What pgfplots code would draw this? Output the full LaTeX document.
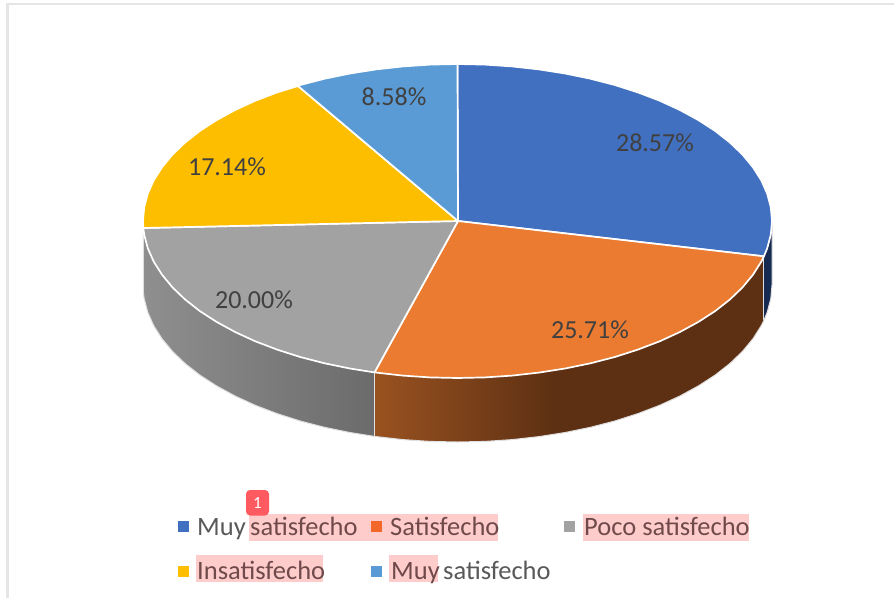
\documentclass[border=0pt]{standalone}
\usepackage{fontspec}
\usepackage{pgfplots}
\pgfplotsset{compat=1.18}
\setmainfont{Carlito}
\definecolor{sBlue}{HTML}{4270C0}
\definecolor{sOrange}{HTML}{EA7B30}
\definecolor{sGray}{HTML}{A2A2A2}
\definecolor{sYellow}{HTML}{FDBE00}
\definecolor{sLight}{HTML}{5B9BD5}
\definecolor{txtD}{HTML}{404040}
\definecolor{txtL}{HTML}{595959}
\definecolor{txtP}{HTML}{704A4A}
\definecolor{pinkH}{HTML}{FFCCCC}
\definecolor{wOa}{HTML}{995220}
\definecolor{wOb}{HTML}{5E3013}
\definecolor{wGa}{HTML}{8F8F8F}
\definecolor{wGb}{HTML}{6B6B6B}
\definecolor{wB}{HTML}{172B52}
\definecolor{swO}{HTML}{F4672A}
\definecolor{badge}{HTML}{FF5A5F}
\pgfdeclarehorizontalshading{orangewall}{100bp}{color(0bp)=(wOa); color(25bp)=(wOa); color(48bp)=(wOb); color(100bp)=(wOb)}
\pgfdeclarehorizontalshading{graywall}{100bp}{color(0bp)=(wGa); color(25bp)=(wGa); color(75bp)=(wGb); color(100bp)=(wGb)}
\begin{document}
\begin{tikzpicture}
\begin{axis}[
  scale only axis, width=894pt, height=598pt,
  xmin=0, xmax=894, ymin=0, ymax=598, y dir=reverse,
  hide axis, clip=true,
]
% page background and frame
\addplot[fill=white, draw=none] coordinates {(0,0) (894,0) (894,598) (0,598)} -- cycle;
\addplot[draw=black!10, line width=2.2pt] coordinates {(7.5,598) (7.5,4.2) (894,4.2)};
% side walls
\addplot[draw=none, fill=wB] coordinates {
 (772,221) (770.8,234.7) (767.2,248.3) (763.9,256.3) (763.9,320.3) (767.2,312.3) (770.8,298.7) (772,285)} -- cycle;
\addplot[draw=none, shading=orangewall] coordinates {
 (763.9,256.3) (761.3,261.6) (753,274.7) (742.5,287.4) (729.9,299.5) (715.1,311.1) (698.4,321.9) (679.9,332)
 (659.7,341.3) (637.9,349.6) (614.8,357) (590.4,363.3) (565.1,368.5) (538.9,372.6) (512.1,375.6) (484.9,377.4)
 (457.5,378) (430.1,377.4) (402.9,375.6) (374.5,372.4)
 (374.5,436.4) (402.9,439.6) (430.1,441.4) (457.5,442) (484.9,441.4) (512.1,439.6) (538.9,436.6) (565.1,432.5)
 (590.4,427.3) (614.8,421) (637.9,413.6) (659.7,405.3) (679.9,396) (698.4,385.9) (715.1,375.1) (729.9,363.5)
 (742.5,351.4) (753,338.7) (761.3,325.6) (763.9,320.3)} -- cycle;
\addplot[draw=none, shading=graywall] coordinates {
 (374.5,372.4) (349.9,368.5) (324.6,363.3) (300.2,357) (277.1,349.6) (255.3,341.3) (235.1,332) (216.6,321.9)
 (199.9,311.1) (185.1,299.5) (172.5,287.4) (162,274.7) (153.7,261.6) (147.8,248.3) (144.2,234.7) (143.3,228)
 (143.3,292) (144.2,298.7) (147.8,312.3) (153.7,325.6) (162,338.7) (172.5,351.4) (185.1,363.5) (199.9,375.1)
 (216.6,385.9) (235.1,396) (255.3,405.3) (277.1,413.6) (300.2,421) (324.6,427.3) (349.9,432.5) (374.5,436.4)} -- cycle;
% wall outlines
\addplot[draw=black!12, line width=1pt] coordinates {
 (143.3,228) (143.3,292) (144.2,298.7) (147.8,312.3) (153.7,325.6) (162,338.7) (172.5,351.4) (185.1,363.5) (199.9,375.1)
 (216.6,385.9) (235.1,396) (255.3,405.3) (277.1,413.6) (300.2,421) (324.6,427.3) (349.9,432.5) (374.5,436.4)
 (402.9,439.6) (430.1,441.4) (457.5,442) (484.9,441.4) (512.1,439.6) (538.9,436.6) (565.1,432.5)
 (590.4,427.3) (614.8,421) (637.9,413.6) (659.7,405.3) (679.9,396) (698.4,385.9) (715.1,375.1) (729.9,363.5)
 (742.5,351.4) (753,338.7) (761.3,325.6) (763.9,320.3) (767.2,312.3) (770.8,298.7) (772,285) (772,221)};
\addplot[draw=black!12, line width=1.4pt] coordinates {(374.5,372.4) (374.5,436.4)};
\addplot[draw=black!12, line width=1pt] coordinates {(763.9,256.3) (763.9,320.3)};
% top faces (28.57, 25.71, 20.00, 17.14, 8.58 per cent)
\pgfplotsset{face/.style={draw=white, line width=1.7pt, line join=round}}
\addplot[face, fill=sBlue] coordinates {
 (458,221) (457.5,64) (484.9,64.6) (512.1,66.4) (538.9,69.4) (565.1,73.5) (590.4,78.7) (614.8,85) (637.9,92.4)
 (659.7,100.7) (679.9,110) (698.4,120.1) (715.1,130.9) (729.9,142.5) (742.5,154.6) (753,167.3) (761.3,180.4)
 (767.2,193.7) (770.8,207.3) (772,221) (770.8,234.7) (767.2,248.3) (763.9,256.3)} -- cycle;
\addplot[face, fill=sOrange] coordinates {
 (458,221) (763.9,256.3) (761.3,261.6) (753,274.7) (742.5,287.4) (729.9,299.5) (715.1,311.1) (698.4,321.9) (679.9,332)
 (659.7,341.3) (637.9,349.6) (614.8,357) (590.4,363.3) (565.1,368.5) (538.9,372.6) (512.1,375.6) (484.9,377.4)
 (457.5,378) (430.1,377.4) (402.9,375.6) (374.5,372.4)} -- cycle;
\addplot[face, fill=sGray] coordinates {
 (458,221) (374.5,372.4) (349.9,368.5) (324.6,363.3) (300.2,357) (277.1,349.6) (255.3,341.3) (235.1,332) (216.6,321.9)
 (199.9,311.1) (185.1,299.5) (172.5,287.4) (162,274.7) (153.7,261.6) (147.8,248.3) (144.2,234.7) (143.3,228)} -- cycle;
\addplot[face, fill=sYellow] coordinates {
 (458,221) (143.3,228) (143,221) (144.2,207.3) (147.8,193.7) (153.7,180.4) (162,167.3) (172.5,154.6) (185.1,142.5)
 (199.9,130.9) (216.6,120.1) (235.1,110) (255.3,100.7) (277.1,92.4) (298,86)} -- cycle;
\addplot[face, fill=sLight] coordinates {
 (458,221) (298,86) (300.2,85) (324.6,78.7) (349.9,73.5) (376.1,69.4) (402.9,66.4) (430.1,64.6) (457.5,64)} -- cycle;
% legend highlights
\addplot[fill=pinkH, draw=none] coordinates {(249,514) (498,514) (498,541) (249,541)} -- cycle;
\addplot[fill=pinkH, draw=none] coordinates {(583,514) (749,514) (749,541) (583,541)} -- cycle;
\addplot[fill=pinkH, draw=none] coordinates {(196,555) (323,555) (323,582) (196,582)} -- cycle;
\addplot[fill=pinkH, draw=none] coordinates {(389,555) (437.7,555) (437.7,582) (389,582)} -- cycle;
% legend swatches
\addplot[fill=sBlue, draw=none] coordinates {(178,521) (189,521) (189,532) (178,532)} -- cycle;
\addplot[fill=swO, draw=none] coordinates {(371,521) (382,521) (382,532) (371,532)} -- cycle;
\addplot[fill=sGray, draw=none] coordinates {(564,521) (575,521) (575,532) (564,532)} -- cycle;
\addplot[fill=sYellow, draw=none] coordinates {(178,566) (189,566) (189,577) (178,577)} -- cycle;
\addplot[fill=sLight, draw=none] coordinates {(371,566) (382,566) (382,577) (371,577)} -- cycle;
% data labels
\tikzset{dl/.style={text=txtD, font=\fontsize{26}{30}\selectfont, inner sep=0pt, anchor=center},
 lg/.style={font=\fontsize{26.5}{30}\selectfont, inner sep=0pt, anchor=base west}}
\node[dl] at (axis cs:655,143) {28.57\%};
\node[dl] at (axis cs:590,330) {25.71\%};
\node[dl] at (axis cs:254,300) {20.00\%};
\node[dl] at (axis cs:227,167) {17.14\%};
\node[dl] at (axis cs:394,97) {8.58\%};
% legend text
\node[lg, text=txtL] at (axis cs:197,535) {Muy};
\node[lg, text=txtP] at (axis cs:250,535) {satisfecho};
\node[lg, text=txtP] at (axis cs:390,535) {Satisfecho};
\node[lg, text=txtP] at (axis cs:584,535) {Poco satisfecho};
\node[lg, text=txtP] at (axis cs:197,579) {Insatisfecho};
\node[lg, text=txtP] at (axis cs:391,579) {Muy};
\node[lg, text=txtL] at (axis cs:443,579) {satisfecho};
% badge
\fill[badge, rounded corners=4pt] (axis cs:246,490) rectangle (axis cs:269,515.5);
\node[text=white, inner sep=0pt, font=\fontsize{17}{20}\selectfont] at (axis cs:257.5,503) {1};
\end{axis}
\end{tikzpicture}
\end{document}
